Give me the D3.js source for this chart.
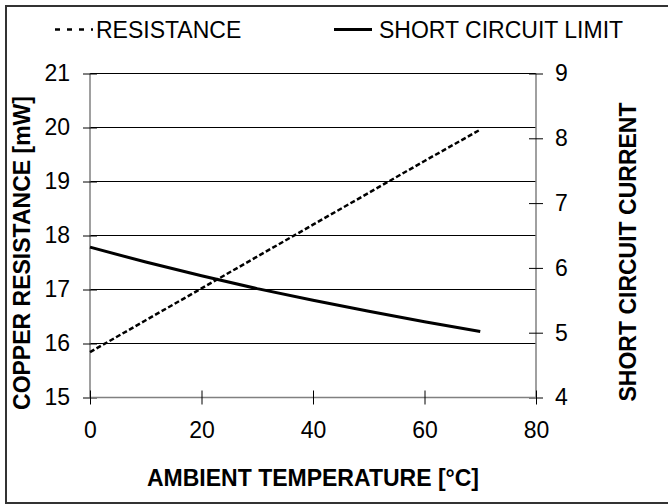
<!DOCTYPE html>
<html><head><meta charset="utf-8">
<script src="https://cdn.jsdelivr.net/npm/d3@7"></script>
<style>
html,body{margin:0;padding:0;background:#fff;}
svg{display:block;font-family:"Liberation Sans",Arial,sans-serif;}
</style></head>
<body>
<svg id="chart" width="668" height="504"></svg>
<script>
const temperatures = [0, 10, 20, 30, 40, 50, 60, 70];
const resistance = [15.84, 16.43, 17.02, 17.61, 18.20, 18.79, 19.38, 19.96];
const shortCircuit = [6.32, 6.09, 5.88, 5.68, 5.50, 5.33, 5.17, 5.02];
const xTicks = [0, 20, 40, 60, 80];
const leftTicks = [15, 16, 17, 18, 19, 20, 21];
const rightTicks = [4, 5, 6, 7, 8, 9];
const legendLabels = ["RESISTANCE", "SHORT CIRCUIT LIMIT"];
const xTitle = "AMBIENT TEMPERATURE [°C]";
const yLeftTitle = "COPPER RESISTANCE [mW]";
const yRightTitle = "SHORT CIRCUIT CURRENT";

const svg = d3.select("#chart");
const L = 90, R = 536, T = 73.5, B = 397.5;
const x = d3.scaleLinear().domain([0, 80]).range([L, R]);
const yL = d3.scaleLinear().domain([15, 21]).range([B, T]);
const yR = d3.scaleLinear().domain([4, 9]).range([B, T]);

// outer frame
svg.append("rect").attr("x", 6).attr("y", 6).attr("width", 680).attr("height", 497)
  .attr("fill", "none").attr("stroke", "#333").attr("stroke-width", 2);

// gridlines
svg.append("g").selectAll("line").data(leftTicks.filter(d => d > 15)).join("line")
  .attr("x1", L).attr("x2", R).attr("y1", d => yL(d)).attr("y2", d => yL(d))
  .attr("stroke", "#000").attr("stroke-width", 1).attr("shape-rendering", "crispEdges");

const fs = 23;
// left axis
const gL = svg.append("g").attr("transform", `translate(${L},0)`)
  .call(d3.axisLeft(yL).tickValues(leftTicks).tickSize(7).tickPadding(13).tickFormat(d3.format("d")));
gL.selectAll(".tick line").attr("x2", 7).attr("x1", -7);
// right axis
const gR = svg.append("g").attr("transform", `translate(${R},0)`)
  .call(d3.axisRight(yR).tickValues(rightTicks).tickSize(7).tickPadding(12).tickFormat(d3.format("d")));
gR.selectAll(".tick line").attr("x1", -7).attr("x2", 7);
// bottom axis
const gB = svg.append("g").attr("transform", `translate(0,${B})`)
  .call(d3.axisBottom(x).tickValues(xTicks).tickSize(7).tickPadding(17).tickFormat(d3.format("d")));
gB.selectAll(".tick line").attr("y1", -7).attr("y2", 7);

[gL, gR, gB].forEach(g => {
  g.selectAll(".domain").attr("stroke", "#808080").attr("stroke-width", 1.5);
  g.selectAll(".tick line").attr("stroke", "#000").attr("stroke-width", 1);
  g.selectAll("text").attr("font-size", fs).attr("fill", "#000")
    .attr("font-family", '"Liberation Sans",Arial,sans-serif');
});
gL.selectAll(".domain").attr("d", `M0,${B}V${T}`);
gR.selectAll(".domain").attr("d", `M0,${B}V${T}`);
gB.selectAll(".domain").attr("d", `M${L},0H${R}`);

// lines
const lineR = d3.line().x((d, i) => x(temperatures[i])).y(d => yL(d));
const lineS = d3.line().x((d, i) => x(temperatures[i])).y(d => yR(d));
svg.append("path").attr("d", lineR(resistance)).attr("fill", "none")
  .attr("stroke", "#000").attr("stroke-width", 2.5).attr("stroke-dasharray", "5,2.5");
svg.append("path").attr("d", lineS(shortCircuit)).attr("fill", "none")
  .attr("stroke", "#000").attr("stroke-width", 3);

// legend
const lg = svg.append("g");
lg.append("line").attr("x1", 55).attr("x2", 93).attr("y1", 29.5).attr("y2", 29.5)
  .attr("stroke", "#000").attr("stroke-width", 2.5).attr("stroke-dasharray", "5,7");
lg.append("text").attr("x", 96).attr("y", 38.3).attr("font-size", fs).text(legendLabels[0]);
lg.append("line").attr("x1", 334).attr("x2", 372).attr("y1", 29.5).attr("y2", 29.5)
  .attr("stroke", "#000").attr("stroke-width", 3);
lg.append("text").attr("x", 379).attr("y", 38.3).attr("font-size", fs).text(legendLabels[1]);

// titles
svg.append("text").attr("x", (L + R) / 2).attr("y", 486).attr("text-anchor", "middle")
  .attr("font-size", 23).attr("font-weight", "bold").text(xTitle);
svg.append("text").attr("transform", "translate(30,253) rotate(-90)").attr("text-anchor", "middle")
  .attr("font-size", 23).attr("font-weight", "bold").text(yLeftTitle);
svg.append("text").attr("transform", "translate(636,252) rotate(-90)").attr("text-anchor", "middle")
  .attr("font-size", 23).attr("font-weight", "bold").text(yRightTitle);
</script>
</body></html>
